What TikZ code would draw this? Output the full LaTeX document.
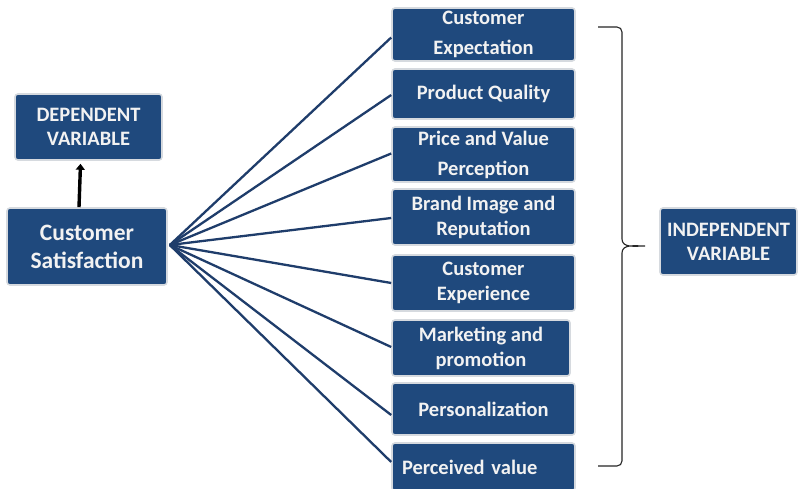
\documentclass[tikz,border=0pt]{standalone}
\usepackage{fontspec}
\setmainfont{Carlito}
\usetikzlibrary{calc,arrows.meta}
\definecolor{boxblue}{HTML}{1F497D}
\definecolor{linkblue}{HTML}{1F3D6B}
\definecolor{rim}{HTML}{D6DADF}
\begin{document}
\begin{tikzpicture}[x=1pt,y=-1pt,
  vbox/.style={draw=rim, line width=1.6pt, fill=boxblue, rounded corners=3pt,
    text=white!95!black, font=\bfseries, align=center, inner sep=1pt},
  capbox/.style={vbox, font=\fontsize{20.5}{24}\selectfont\bfseries},
  fbox/.style={vbox, minimum width=183pt, font=\fontsize{20.5}{25}\selectfont\bfseries},
  wide/.style={font=\fontsize{20.5}{30}\selectfont\bfseries},
  link/.style={draw=linkblue, line width=2.3pt},
  brace/.style={draw=black!85, line width=1.1pt}]
\useasboundingbox (0,0) rectangle (798,489);
\fill[white] (0,0) rectangle (798,489);

% left side
\node[capbox, minimum width=147pt, minimum height=66pt] (dep) at (88.5,127) {DEPENDENT\\VARIABLE};
\node[vbox, minimum width=160pt, minimum height=77pt,
  font=\fontsize{23.5}{28}\selectfont\bfseries] (cs) at (87,246.5) {Customer\\Satisfaction};
\draw[line width=3.4pt, -{Triangle[width=9pt,length=6pt]}]
  ([xshift=-8pt]cs.north) -- ([xshift=-8pt,yshift=-3pt]dep.south);

% factor boxes
\node[fbox, wide, minimum height=53pt] (r1) at (483.5,34.5) {Customer\\Expectation};
\node[fbox, minimum height=50pt] (r2) at (483.5,94) {Product Quality};
\node[fbox, wide, minimum height=55pt] (r3) at (483.5,154.5) {Price and Value\\Perception};
\node[fbox, minimum height=56pt] (r4) at (483.5,217) {Brand Image and\\Reputation};
\node[fbox, minimum height=56pt] (r5) at (483.5,283) {Customer\\Experience};
\node[fbox, minimum width=178pt, minimum height=56pt] (r6) at (481,348) {Marketing and\\promotion};
\node[fbox, minimum height=52pt] (r7) at (483.5,409) {Personalization};
\node[fbox, minimum height=48pt, text width=163pt, align=left] (r8) at (483.5,467) {Perceived value};

% connectors
\coordinate (hub) at ($(cs.east)+(2,-1.5)$);
\draw[link] (hub) -- ($(r1.west)+(0,3)$);
\draw[link] (hub) -- ($(r2.west)+(0,1)$);
\draw[link] (hub) -- ($(r3.west)+(0,-1)$);
\draw[link] (hub) -- ($(r4.west)+(0,1)$);
\draw[link] (hub) -- (r5.west);
\draw[link] (hub) -- ($(r6.west)+(0,-1)$);
\draw[link] (hub) -- ($(r7.west)+(0,6)$);
\draw[link] (hub) -- ($(r8.west)+(0,-5)$);

% independent variable and brace
\node[capbox, minimum width=137pt, minimum height=67pt] (ind) at (728.5,241.5) {INDEPENDENT\\VARIABLE};
\coordinate (btop) at (598,27);
\coordinate (bbot) at (598,466);
\coordinate (btip) at (645,246);
\draw[brace] (btop) -- (617,27) to[out=0,in=90] (622,32) -- (622,239)
  to[out=-90,in=180] (btip) to[out=180,in=90] (622,253) -- (622,461)
  to[out=-90,in=0] (617,466) -- (bbot);
\end{tikzpicture}
\end{document}
